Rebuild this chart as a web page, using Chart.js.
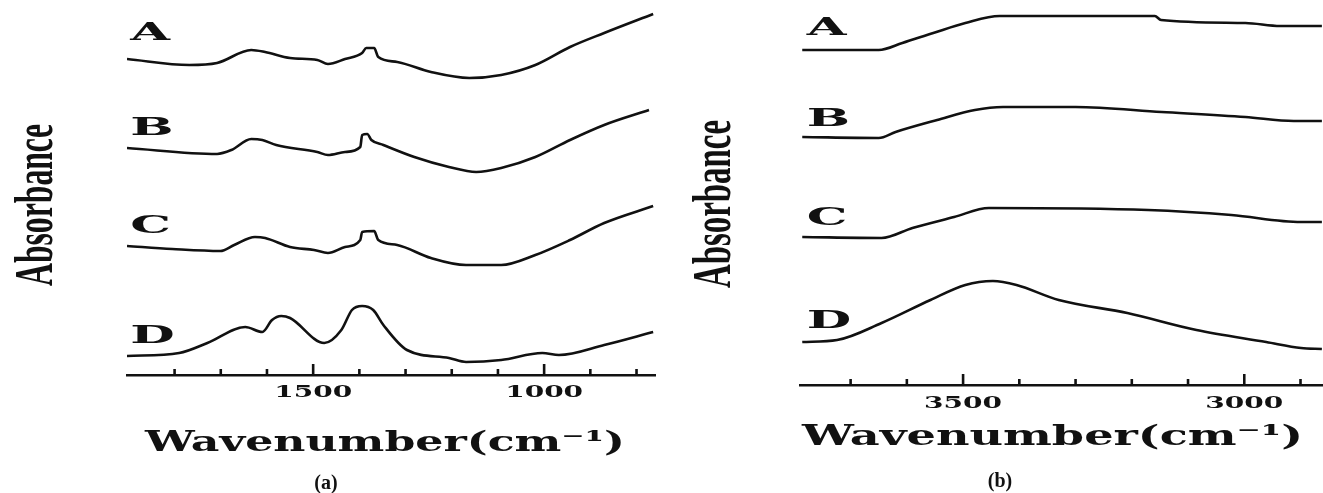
<!DOCTYPE html>
<html>
<head>
<meta charset="utf-8">
<title>FTIR spectra</title>
<script src="https://cdn.jsdelivr.net/npm/chart.js@4.4.1/dist/chart.umd.min.js"></script>
<style>
  html, body { margin: 0; padding: 0; background: #fff; }
  #wrap { position: relative; width: 1323px; height: 493px; overflow: hidden; }
  .box { position: absolute; top: 0; height: 493px; }
  #boxA { left: 0; width: 660px; }
  #boxB { left: 660px; width: 663px; }
</style>
</head>
<body>
<div id="wrap">
  <div class="box" id="boxA"><canvas id="chartA"></canvas></div>
  <div class="box" id="boxB"><canvas id="chartB"></canvas></div>
</div>
<script>
// (a) 1900-760 cm-1 region, stacked absorbance (arbitrary offset units)
const curveNames = ['A', 'B', 'C', 'D'];

const waveA1 = [1903, 1768, 1708, 1634, 1604, 1550, 1491, 1468, 1431, 1394, 1385, 1368, 1359, 1318, 1245, 1162, 1093, 1019, 944, 870, 764];
const absA1  = [316, 310, 312, 325, 323, 317, 315, 311, 316, 322, 327, 327, 318, 313, 303, 297, 300, 310, 328, 342, 361];

const waveB1 = [1903, 1708, 1677, 1634, 1610, 1580, 1491, 1468, 1431, 1398, 1394, 1383, 1374, 1348, 1281, 1206, 1147, 1093, 1019, 944, 870, 773];
const absB1  = [227, 221, 225, 236, 235, 230, 223, 220, 223, 228, 240, 241, 235, 230, 218, 208, 203, 207, 218, 235, 250, 265];

const waveC1 = [1903, 1805, 1701, 1671, 1626, 1604, 1550, 1498, 1468, 1431, 1398, 1394, 1368, 1359, 1318, 1245, 1169, 1093, 1019, 944, 870, 764];
const absC1  = [129, 126, 124, 130, 138, 137, 128, 125, 122, 128, 135, 143, 144, 135, 130, 117, 110, 110, 120, 135, 152, 169];

const waveD1 = [1903, 1790, 1729, 1647, 1610, 1589, 1569, 1550, 1476, 1439, 1416, 1394, 1370, 1348, 1297, 1206, 1169, 1093, 1004, 968, 870, 764];
const absD1  = [19, 22, 32, 48, 43, 55, 59, 57, 32, 45, 65, 69, 65, 50, 25, 17, 13, 15, 22, 20, 30, 43];

// (b) 3790-2860 cm-1 region
const waveA2 = [3786, 3650, 3608, 3553, 3496, 3435, 3159, 3148, 2998, 2936, 2862];
const absA2  = [335, 335, 342, 352, 362, 369, 369, 365, 362, 359, 359];

const waveB2 = [3786, 3650, 3620, 3546, 3479, 3429, 3300, 3147, 2998, 2912, 2862];
const absB2  = [248, 247, 253, 265, 275, 278, 278, 273, 268, 264, 264];

const waveC2 = [3786, 3645, 3590, 3516, 3454, 3171, 3023, 2899, 2862];
const absC2  = [148, 147, 157, 168, 177, 175, 170, 163, 163];

const waveD2 = [3786, 3724, 3645, 3558, 3496, 3447, 3405, 3330, 3208, 3085, 2961, 2899, 2862];
const absD2  = [43, 45, 62, 85, 100, 104, 100, 85, 72, 55, 43, 37, 36];

// axis ticks
const ticks1 = [1800, 1700, 1600, 1500, 1400, 1300, 1200, 1100, 1000, 900, 800];
const tickLabels1 = [1500, 1000];
const ticks2 = [3700, 3600, 3500, 3400, 3300, 3200, 3100, 3000, 2900];
const tickLabels2 = [3500, 3000];

const xTitle = 'Wavenumber(cm\u207B\u00B9)';
const yTitle = 'Absorbance';

function toPoints(xs, ys) {
    return xs.map((x, i) => ({ x: x, y: ys[i] }));
}

// draw text squeezed / stretched horizontally
function stretchText(ctx, text, x, y, font, sx, align) {
    ctx.save();
    ctx.font = font;
    ctx.textAlign = 'left';
    ctx.textBaseline = 'alphabetic';
    const w = ctx.measureText(text).width * sx;
    const left = align === 'center' ? x - w / 2 : x;
    ctx.translate(left, y);
    ctx.scale(sx, 1);
    ctx.fillText(text, 0, 0);
    ctx.restore();
}

function fitText(ctx, text, left, right, y, font) {
    ctx.save();
    ctx.font = font;
    const sx = (right - left) / ctx.measureText(text).width;
    ctx.restore();
    stretchText(ctx, text, left, y, font, sx, 'left');
}

const decor = {
    id: 'decor',
    afterDraw(chart, args, o) {
        const ctx = chart.ctx;
        const xs = chart.scales.x, ys = chart.scales.y;
        const base = chart.chartArea.bottom;
        ctx.save();
        ctx.fillStyle = '#111';
        ctx.strokeStyle = '#111';
        ctx.lineWidth = 2.6;
        o.ticks.forEach(v => {
            const px = xs.getPixelForValue(v);
            const len = v % 500 === 0 ? 11 : 6;
            ctx.beginPath();
            ctx.moveTo(px, base);
            ctx.lineTo(px, base - len);
            ctx.stroke();
        });
        o.tickLabels.forEach(v => {
            stretchText(ctx, String(v), xs.getPixelForValue(v), o.tickBaseline, 'bold 16px "DejaVu Serif"', 1.75, 'center');
        });
        curveNames.forEach((n, i) => {
            const p = o.namePos[i];
            stretchText(ctx, n, xs.getPixelForValue(p[0]), ys.getPixelForValue(p[1]), 'bold 25px "DejaVu Serif"', 2.05, 'left');
        });
        fitText(ctx, xTitle, o.title[0], o.title[1], o.title[2], 'bold 28px "DejaVu Serif"');
        stretchText(ctx, o.panel, o.panelPos[0], o.panelPos[1], 'bold 20px "Liberation Serif"', 1.0, 'center');

        // rotated y title, squeezed along its length
        ctx.save();
        ctx.font = 'bold 54px "Liberation Serif"';
        const sx = o.yTitle[2] / ctx.measureText(yTitle).width;
        ctx.translate(o.yTitle[0], o.yTitle[1]);
        ctx.rotate(-Math.PI / 2);
        ctx.scale(sx, 1);
        ctx.textAlign = 'center';
        ctx.textBaseline = 'alphabetic';
        ctx.fillText(yTitle, 0, 0);
        ctx.restore();
        ctx.restore();
    }
};

function makeChart(id, sets, cfg) {
    const datasets = sets.map((s, i) => ({
        label: curveNames[i],
        data: toPoints(s[0], s[1]),
        borderColor: '#111',
        borderWidth: 2.6,
        pointRadius: 0,
        fill: false,
        cubicInterpolationMode: 'monotone'
    }));
    return new Chart(document.getElementById(id), {
        type: 'line',
        data: { datasets: datasets },
        options: {
            responsive: true,
            maintainAspectRatio: false,
            animation: false,
            layout: { padding: { left: cfg.left, right: cfg.right, top: 0, bottom: 0 } },
            plugins: {
                legend: { display: false },
                tooltip: { enabled: false },
                decor: cfg.decor
            },
            scales: {
                x: {
                    type: 'linear',
                    reverse: true,
                    min: cfg.xmin,
                    max: cfg.xmax,
                    grid: { display: false, drawTicks: false },
                    border: { display: true, color: '#111', width: 2.6 },
                    ticks: { display: false, stepSize: 100 },
                    afterFit: s => { s.height = 493 - cfg.axisY; }
                },
                y: { display: false, min: 0, max: cfg.axisY }
            }
        },
        plugins: [decor]
    });
}

makeChart('chartA', [[waveA1, absA1], [waveB1, absB1], [waveC1, absC1], [waveD1, absD1]], {
    left: 127, right: 5, xmin: 760, xmax: 1903, axisY: 375,
    decor: {
        ticks: ticks1, tickLabels: tickLabels1, tickBaseline: 397,
        namePos: [[1896, 335], [1896, 240], [1896, 142], [1896, 32]],
        title: [145, 625, 451], panel: '(a)', panelPos: [326, 489],
        yTitle: [52, 205, 162]
    }
});

makeChart('chartB', [[waveA2, absA2], [waveB2, absB2], [waveC2, absC2], [waveD2, absD2]], {
    left: 140, right: 0, xmin: 2860, xmax: 3790, axisY: 385,
    decor: {
        ticks: ticks2, tickLabels: tickLabels2, tickBaseline: 408,
        namePos: [[3778, 350], [3778, 259], [3778, 160], [3778, 57]],
        title: [142, 643, 445], panel: '(b)', panelPos: [340, 487],
        yTitle: [70, 204, 168]
    }
});
</script>
</body>
</html>
